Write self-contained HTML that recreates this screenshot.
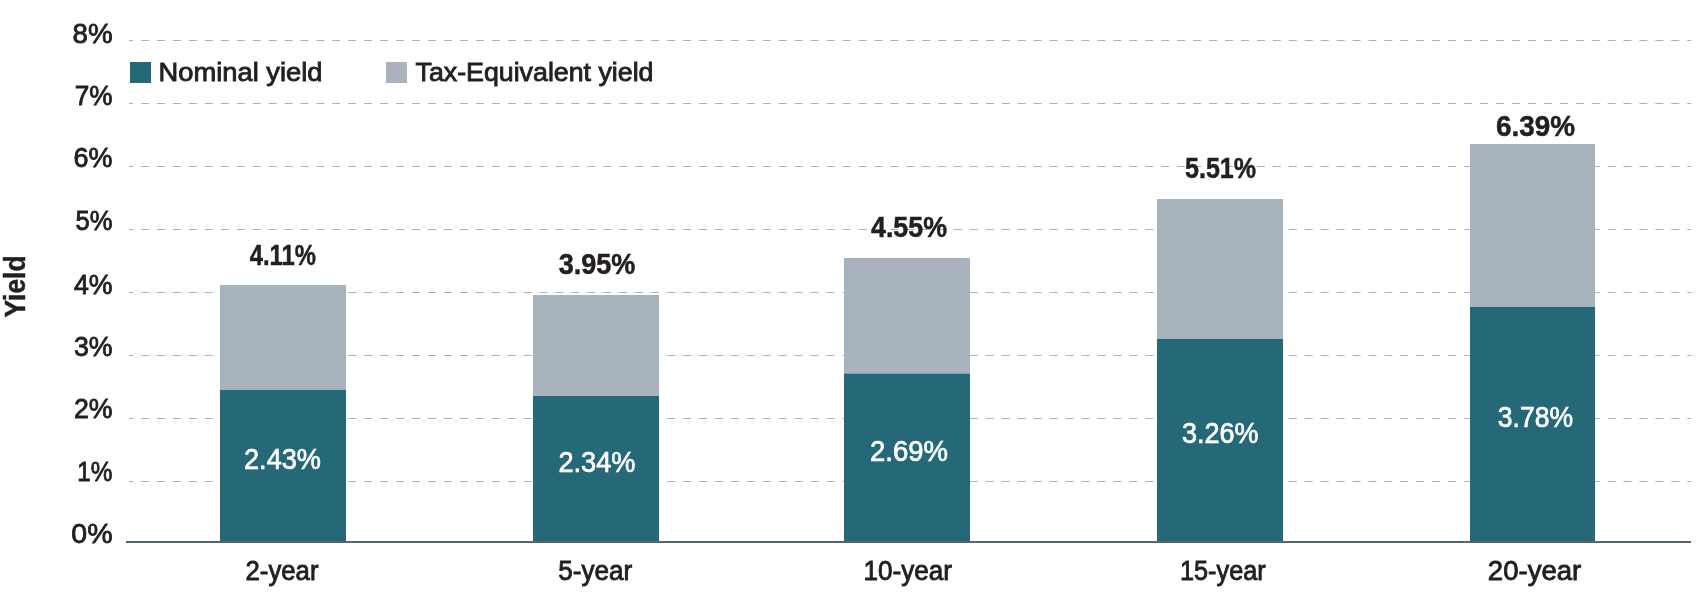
<!DOCTYPE html>
<html><head><meta charset="utf-8"><title>Yield chart</title>
<style>html,body{margin:0;padding:0;background:#fff;}body{width:1700px;height:600px;overflow:hidden;font-family:"Liberation Sans",sans-serif;}svg{display:block;will-change:transform;transform:translateZ(0);}text{font-family:"Liberation Sans",sans-serif;}</style></head><body>
<svg width="1700" height="600" viewBox="0 0 1700 600">
<rect width="1700" height="600" fill="#ffffff"/>
<line x1="129" y1="40.5" x2="1691.3" y2="40.5" stroke="#a8b3c0" stroke-width="1" stroke-dasharray="8 7.94" stroke-dashoffset="3.84"/>
<line x1="129" y1="103.5" x2="1691.3" y2="103.5" stroke="#a8b3c0" stroke-width="1" stroke-dasharray="8 7.94" stroke-dashoffset="3.84"/>
<line x1="129" y1="166.5" x2="1691.3" y2="166.5" stroke="#a8b3c0" stroke-width="1" stroke-dasharray="8 7.94" stroke-dashoffset="3.84"/>
<line x1="129" y1="229.5" x2="1691.3" y2="229.5" stroke="#a8b3c0" stroke-width="1" stroke-dasharray="8 7.94" stroke-dashoffset="3.84"/>
<line x1="129" y1="292.5" x2="1691.3" y2="292.5" stroke="#a8b3c0" stroke-width="1" stroke-dasharray="8 7.94" stroke-dashoffset="3.84"/>
<line x1="129" y1="355.5" x2="1691.3" y2="355.5" stroke="#a8b3c0" stroke-width="1" stroke-dasharray="8 7.94" stroke-dashoffset="3.84"/>
<line x1="129" y1="418.5" x2="1691.3" y2="418.5" stroke="#a8b3c0" stroke-width="1" stroke-dasharray="8 7.94" stroke-dashoffset="3.84"/>
<line x1="129" y1="481.5" x2="1691.3" y2="481.5" stroke="#a8b3c0" stroke-width="1" stroke-dasharray="8 7.94" stroke-dashoffset="3.84"/>
<rect x="220" y="285" width="126" height="105" fill="#a9b3be"/>
<rect x="220" y="390" width="126" height="152" fill="#256978"/>
<rect x="533" y="295" width="126" height="101" fill="#a9b3be"/>
<rect x="533" y="396" width="126" height="146" fill="#256978"/>
<rect x="844" y="258" width="126" height="115.5" fill="#a9b3be"/>
<rect x="844" y="373.5" width="126" height="168.5" fill="#256978"/>
<rect x="1157" y="199" width="126" height="140" fill="#a9b3be"/>
<rect x="1157" y="339" width="126" height="203" fill="#256978"/>
<rect x="1470" y="144" width="125" height="163" fill="#a9b3be"/>
<rect x="1470" y="307" width="125" height="235" fill="#256978"/>
<rect x="126" y="541" width="1565" height="2" fill="#53666f"/>
<rect x="130" y="62" width="21" height="21" fill="#256978"/>
<rect x="386" y="62" width="21" height="21" fill="#a9b3be"/>
<text id="lg1" x="158.5" y="80.5" font-size="26" fill="#231f20" stroke="#231f20" stroke-width="0.85" textLength="164" lengthAdjust="spacingAndGlyphs">Nominal yield</text>
<text id="lg2" x="415.5" y="80.5" font-size="26" fill="#231f20" stroke="#231f20" stroke-width="0.85" textLength="238" lengthAdjust="spacingAndGlyphs">Tax-Equivalent yield</text>
<text class="yl" x="112.5" y="43.300000000000004" font-size="28" fill="#231f20" stroke="#231f20" stroke-width="0.85" text-anchor="end" textLength="40" lengthAdjust="spacingAndGlyphs">8%</text>
<text class="yl" x="112.5" y="105.39999999999999" font-size="28" fill="#231f20" stroke="#231f20" stroke-width="0.85" text-anchor="end" textLength="37.8" lengthAdjust="spacingAndGlyphs">7%</text>
<text class="yl" x="112.5" y="167.1" font-size="28" fill="#231f20" stroke="#231f20" stroke-width="0.85" text-anchor="end" textLength="38.9" lengthAdjust="spacingAndGlyphs">6%</text>
<text class="yl" x="112.5" y="229.6" font-size="28" fill="#231f20" stroke="#231f20" stroke-width="0.85" text-anchor="end" textLength="37" lengthAdjust="spacingAndGlyphs">5%</text>
<text class="yl" x="112.5" y="294.1" font-size="28" fill="#231f20" stroke="#231f20" stroke-width="0.85" text-anchor="end" textLength="38.6" lengthAdjust="spacingAndGlyphs">4%</text>
<text class="yl" x="112.5" y="356.1" font-size="28" fill="#231f20" stroke="#231f20" stroke-width="0.85" text-anchor="end" textLength="38.6" lengthAdjust="spacingAndGlyphs">3%</text>
<text class="yl" x="112.5" y="418.1" font-size="28" fill="#231f20" stroke="#231f20" stroke-width="0.85" text-anchor="end" textLength="38.6" lengthAdjust="spacingAndGlyphs">2%</text>
<text class="yl" x="112.5" y="481.1" font-size="28" fill="#231f20" stroke="#231f20" stroke-width="0.85" text-anchor="end" textLength="35.2" lengthAdjust="spacingAndGlyphs">1%</text>
<text class="yl" x="112.5" y="543.1" font-size="28" fill="#231f20" stroke="#231f20" stroke-width="0.85" text-anchor="end" textLength="41.2" lengthAdjust="spacingAndGlyphs">0%</text>
<text id="yt" transform="translate(25,286.5) rotate(-90)" font-size="29.5" font-weight="bold" fill="#231f20" stroke="#231f20" stroke-width="0.5" text-anchor="middle" textLength="62" lengthAdjust="spacingAndGlyphs">Yield</text>
<text class="tl" x="282.875" y="264.5" font-size="29" font-weight="bold" fill="#231f20" stroke="#231f20" stroke-width="0.5" text-anchor="middle" textLength="66.25" lengthAdjust="spacingAndGlyphs">4.11%</text>
<text class="il" x="282.5" y="468.6" font-size="29" fill="#ffffff" stroke="#ffffff" stroke-width="0.7" text-anchor="middle" textLength="77" lengthAdjust="spacingAndGlyphs">2.43%</text>
<text class="xl" x="282.0" y="580" font-size="27" fill="#231f20" stroke="#231f20" stroke-width="0.85" text-anchor="middle" textLength="73" lengthAdjust="spacingAndGlyphs">2-year</text>
<text class="tl" x="597.075" y="274.4" font-size="29" font-weight="bold" fill="#231f20" stroke="#231f20" stroke-width="0.5" text-anchor="middle" textLength="76.64999999999998" lengthAdjust="spacingAndGlyphs">3.95%</text>
<text class="il" x="596.9" y="472.1" font-size="29" fill="#ffffff" stroke="#ffffff" stroke-width="0.7" text-anchor="middle" textLength="77.0" lengthAdjust="spacingAndGlyphs">2.34%</text>
<text class="xl" x="595.3" y="580" font-size="27" fill="#231f20" stroke="#231f20" stroke-width="0.85" text-anchor="middle" textLength="74.0" lengthAdjust="spacingAndGlyphs">5-year</text>
<text class="tl" x="909.0" y="237.25" font-size="29" font-weight="bold" fill="#231f20" stroke="#231f20" stroke-width="0.5" text-anchor="middle" textLength="76" lengthAdjust="spacingAndGlyphs">4.55%</text>
<text class="il" x="909.0" y="460.85" font-size="29" fill="#ffffff" stroke="#ffffff" stroke-width="0.7" text-anchor="middle" textLength="78" lengthAdjust="spacingAndGlyphs">2.69%</text>
<text class="xl" x="907.75" y="580" font-size="27" fill="#231f20" stroke="#231f20" stroke-width="0.85" text-anchor="middle" textLength="88.5" lengthAdjust="spacingAndGlyphs">10-year</text>
<text class="tl" x="1220.5" y="178" font-size="29" font-weight="bold" fill="#231f20" stroke="#231f20" stroke-width="0.5" text-anchor="middle" textLength="71" lengthAdjust="spacingAndGlyphs">5.51%</text>
<text class="il" x="1220.25" y="443.1" font-size="29" fill="#ffffff" stroke="#ffffff" stroke-width="0.7" text-anchor="middle" textLength="76.5" lengthAdjust="spacingAndGlyphs">3.26%</text>
<text class="xl" x="1222.85" y="580" font-size="27" fill="#231f20" stroke="#231f20" stroke-width="0.85" text-anchor="middle" textLength="85.70000000000005" lengthAdjust="spacingAndGlyphs">15-year</text>
<text class="tl" x="1535.5" y="136" font-size="29" font-weight="bold" fill="#231f20" stroke="#231f20" stroke-width="0.5" text-anchor="middle" textLength="79" lengthAdjust="spacingAndGlyphs">6.39%</text>
<text class="il" x="1535.375" y="426.85" font-size="29" fill="#ffffff" stroke="#ffffff" stroke-width="0.7" text-anchor="middle" textLength="75.25" lengthAdjust="spacingAndGlyphs">3.78%</text>
<text class="xl" x="1534.55" y="580" font-size="27" fill="#231f20" stroke="#231f20" stroke-width="0.85" text-anchor="middle" textLength="93.5" lengthAdjust="spacingAndGlyphs">20-year</text>
</svg></body></html>
